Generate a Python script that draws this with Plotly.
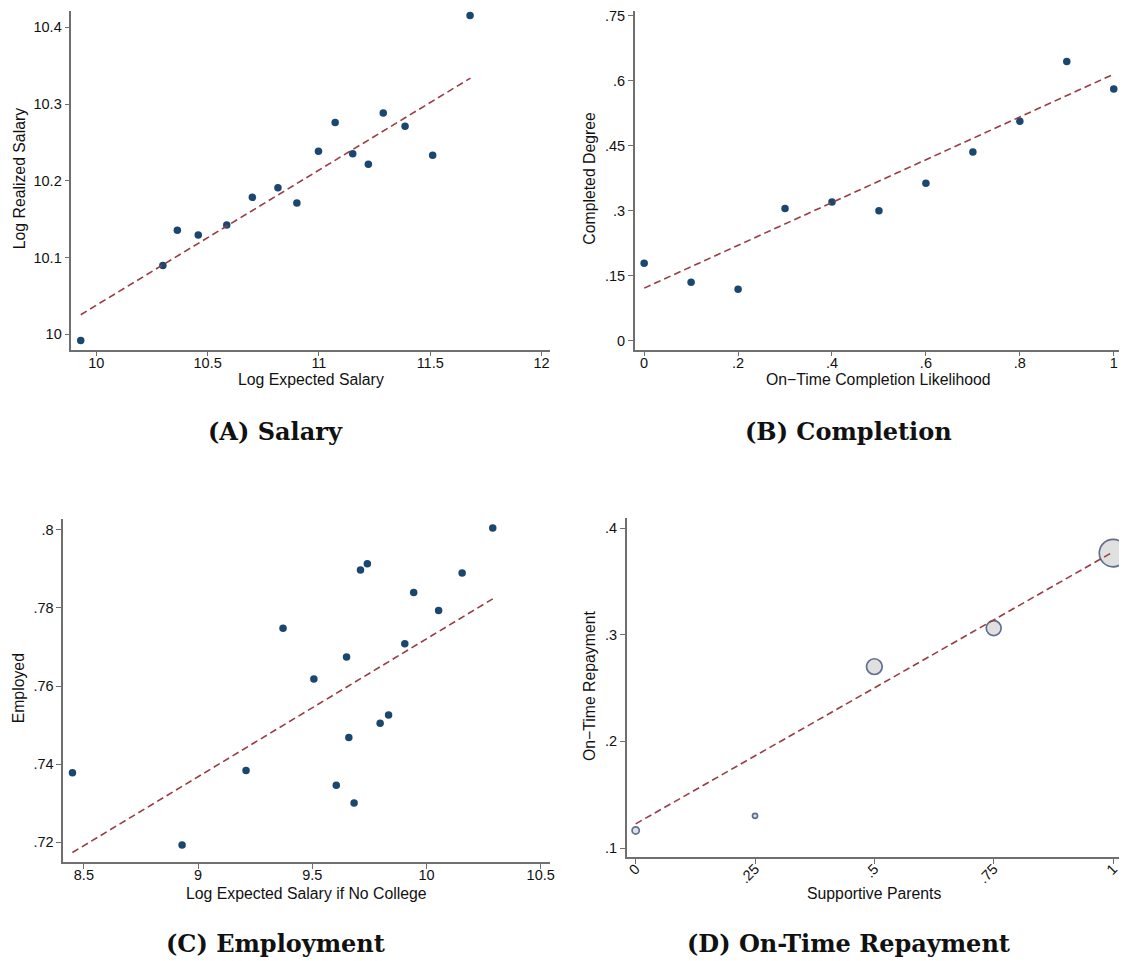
import plotly.graph_objects as go
import numpy as np

# ---------------- DATA ----------------
# Panel A: Salary
a_x = [9.930, 10.299, 10.364, 10.458, 10.586, 10.701, 10.816, 10.901, 10.998,
       11.073, 11.152, 11.222, 11.289, 11.387, 11.511, 11.679]
a_y = [9.992, 10.0896, 10.1355, 10.1294, 10.1424, 10.1784, 10.1909, 10.171, 10.2385,
       10.2758, 10.2351, 10.2216, 10.2883, 10.271, 10.2333, 10.4152]
a_fit_x = [9.930, 11.681]
a_fit_y = [10.0255, 10.3338]
a_xticks = [10, 10.5, 11, 11.5, 12]
a_xtext = ["10", "10.5", "11", "11.5", "12"]
a_yticks = [10, 10.1, 10.2, 10.3, 10.4]
a_ytext = ["10", "10.1", "10.2", "10.3", "10.4"]

# Panel B: Completion
b_x = [0, 0.1, 0.2, 0.3, 0.4, 0.5, 0.6, 0.7, 0.8, 0.9, 1.0]
b_y = [0.1793, 0.1356, 0.1195, 0.3057, 0.3202, 0.3003, 0.3639, 0.4359, 0.5064, 0.6443, 0.5807]
b_fit_x = [0, 1]
b_fit_y = [0.1218, 0.6152]
b_xticks = [0, 0.2, 0.4, 0.6, 0.8, 1]
b_xtext = ["0", ".2", ".4", ".6", ".8", "1"]
b_yticks = [0, 0.15, 0.3, 0.45, 0.6, 0.75]
b_ytext = ["0", ".15", ".3", ".45", ".6", ".75"]

# Panel C: Employment
c_x = [8.450, 8.930, 9.210, 9.372, 9.507, 9.605, 9.650, 9.660, 9.683, 9.711,
       9.741, 9.797, 9.834, 9.905, 9.944, 10.053, 10.156, 10.290]
c_y = [0.7378, 0.7193, 0.7384, 0.7748, 0.7618, 0.7346, 0.7674, 0.7468, 0.7301, 0.7897,
       0.7913, 0.7505, 0.7526, 0.7708, 0.7839, 0.7793, 0.7889, 0.8004]
c_fit_x = [8.450, 10.290]
c_fit_y = [0.7174, 0.7823]
c_xticks = [8.5, 9, 9.5, 10, 10.5]
c_xtext = ["8.5", "9", "9.5", "10", "10.5"]
c_yticks = [0.72, 0.74, 0.76, 0.78, 0.8]
c_ytext = [".72", ".74", ".76", ".78", ".8"]

# Panel D: On-Time Repayment
d_x = [0, 0.25, 0.5, 0.75, 1.0]
d_y = [0.1165, 0.1302, 0.2701, 0.3062, 0.3766]
d_weight = [0.04, 0.02, 0.19, 0.17, 0.58]
d_fit_x = [0, 1]
d_fit_y = [0.1227, 0.3776]
d_xticks = [0, 0.25, 0.5, 0.75, 1]
d_xtext = ["0", ".25", ".5", ".75", "1"]
d_yticks = [0.1, 0.2, 0.3, 0.4]
d_ytext = [".1", ".2", ".3", ".4"]

titles = ["(A) Salary", "(B) Completion", "(C) Employment", "(D) On-Time Repayment"]
xtitles = ["Log Expected Salary", "On\u2212Time Completion Likelihood",
           "Log Expected Salary if No College", "Supportive Parents"]
ytitles = ["Log Realized Salary", "Completed Degree", "Employed", "On\u2212Time Repayment"]

# ---------------- STYLE / LAYOUT ----------------
PAGE_W, PAGE_H = 1127, 961
OFF = 8  # default page body margin
W, H = PAGE_W - OFF, PAGE_H - OFF

NAVY = "#1a476f"
MAROON = "#983d43"
AX = "#6f6f6f"
TICKFONT = dict(family="Liberation Sans, Arial, sans-serif", size=14.5, color="#111")
TITLEFONT = dict(family="Liberation Sans, Arial, sans-serif", size=15.8, color="#111")
CAPFONT = dict(family="DejaVu Serif, serif", size=24, color="#111")


def px_x(p):
    return (p - OFF) / W


def px_y(p):
    return 1 - (p - OFF) / H


# pixel boxes on the page: (left, right, top, bottom)
boxes = [(70.7, 551.8, 8, 347.7), (636.7, 1126, 8, 347.7),
         (62.5, 551.8, 517.3, 861.7), (628.6, 1126, 517, 856.7)]
# (value, page pixel) pairs for two ticks on each axis
xanch = [((10, 95.7), (12, 542.9)), ((0, 646), (1, 1117.7)),
         ((8.5, 83.2), (10.5, 542.1)), ((0, 637.5), (1, 1117))]
yanch = [((10, 332.3), (10.4, 24.3)), ((0, 339), (0.75, 12.7)),
         ((0.72, 842), (0.8, 528.3)), ((0.1, 847.7), (0.4, 526.7))]


def rng(anch, p0, p1):
    (v0, q0), (v1, q1) = anch
    k = (v1 - v0) / (q1 - q0)
    return [v0 + (p0 - q0) * k, v0 + (p1 - q0) * k]


xt = [(a_xticks, a_xtext), (b_xticks, b_xtext), (c_xticks, c_xtext), (d_xticks, d_xtext)]
yt = [(a_yticks, a_ytext), (b_yticks, b_ytext), (c_yticks, c_ytext), (d_yticks, d_ytext)]

fig = go.Figure()

panels = [(a_x, a_y, a_fit_x, a_fit_y), (b_x, b_y, b_fit_x, b_fit_y),
          (c_x, c_y, c_fit_x, c_fit_y), (d_x, d_y, d_fit_x, d_fit_y)]

for i, (x, y, fx, fy) in enumerate(panels):
    suf = "" if i == 0 else str(i + 1)
    xa, ya = "x" + suf, "y" + suf
    if i < 3:
        fig.add_trace(go.Scatter(x=x, y=y, mode="markers", xaxis=xa, yaxis=ya,
                                 marker=dict(size=7.5, color=NAVY, line=dict(width=0)),
                                 showlegend=False, cliponaxis=False))
    else:
        sizes = [36.1 * np.sqrt(w) for w in d_weight]
        fig.add_trace(go.Scatter(x=x, y=y, mode="markers", xaxis=xa, yaxis=ya,
                                 marker=dict(size=sizes, color="#d3d3d3",
                                             line=dict(width=1.7, color="#1f3263")),
                                 showlegend=False, cliponaxis=False))
    fig.add_trace(go.Scatter(x=fx, y=fy, mode="lines", xaxis=xa, yaxis=ya,
                             line=dict(color=MAROON, width=1.6, dash="7px,4px"),
                             showlegend=False, cliponaxis=False))

layout = dict(width=W, height=H, margin=dict(l=0, r=0, t=0, b=0),
              paper_bgcolor="white", plot_bgcolor="white", showlegend=False)

annotations = []
for i in range(4):
    l, r, t, b = boxes[i]
    suf = "" if i == 0 else str(i + 1)
    common = dict(showline=True, linecolor=AX, linewidth=1.6, ticks="outside",
                  ticklen=5, tickwidth=1.3, tickcolor=AX, showgrid=False,
                  zeroline=False, tickfont=TICKFONT, mirror=False,
                  ticklabeloverflow="allow")
    layout["xaxis" + suf] = dict(domain=[px_x(l), px_x(r)], range=rng(xanch[i], l, r),
                                 anchor="y" + suf, tickmode="array",
                                 tickvals=xt[i][0], ticktext=xt[i][1],
                                 tickangle=-45 if i == 3 else 0,
                                 ticklabelstandoff=-9 if i == 3 else -6, **common)
    layout["yaxis" + suf] = dict(domain=[px_y(b), px_y(t)], range=rng(yanch[i], b, t),
                                 anchor="x" + suf, tickmode="array",
                                 tickvals=yt[i][0], ticktext=yt[i][1], **common)
    # axis titles
    xt_y = 378 if i < 2 else 893
    annotations.append(dict(text=xtitles[i], x=px_x((l + r) / 2), y=px_y(xt_y),
                            xref="paper", yref="paper", showarrow=False,
                            xanchor="center", yanchor="middle", font=TITLEFONT))
    yt_x = [18, 591, 17, 591][i]
    annotations.append(dict(text=ytitles[i], x=px_x(yt_x), y=px_y((max(t, 4) + b) / 2 - 2),
                            xref="paper", yref="paper", showarrow=False, textangle=-90,
                            xanchor="center", yanchor="middle", font=TITLEFONT))
    cap_x = [276, 851, 276, 851][i]
    cap_y = 430 if i < 2 else 943
    annotations.append(dict(text="<b>" + titles[i] + "</b>", x=px_x(cap_x), y=px_y(cap_y),
                            xref="paper", yref="paper", showarrow=False,
                            xanchor="center", yanchor="middle", font=CAPFONT))

layout["annotations"] = annotations
fig.update_layout(**layout)
fig.write_html("out.html")
